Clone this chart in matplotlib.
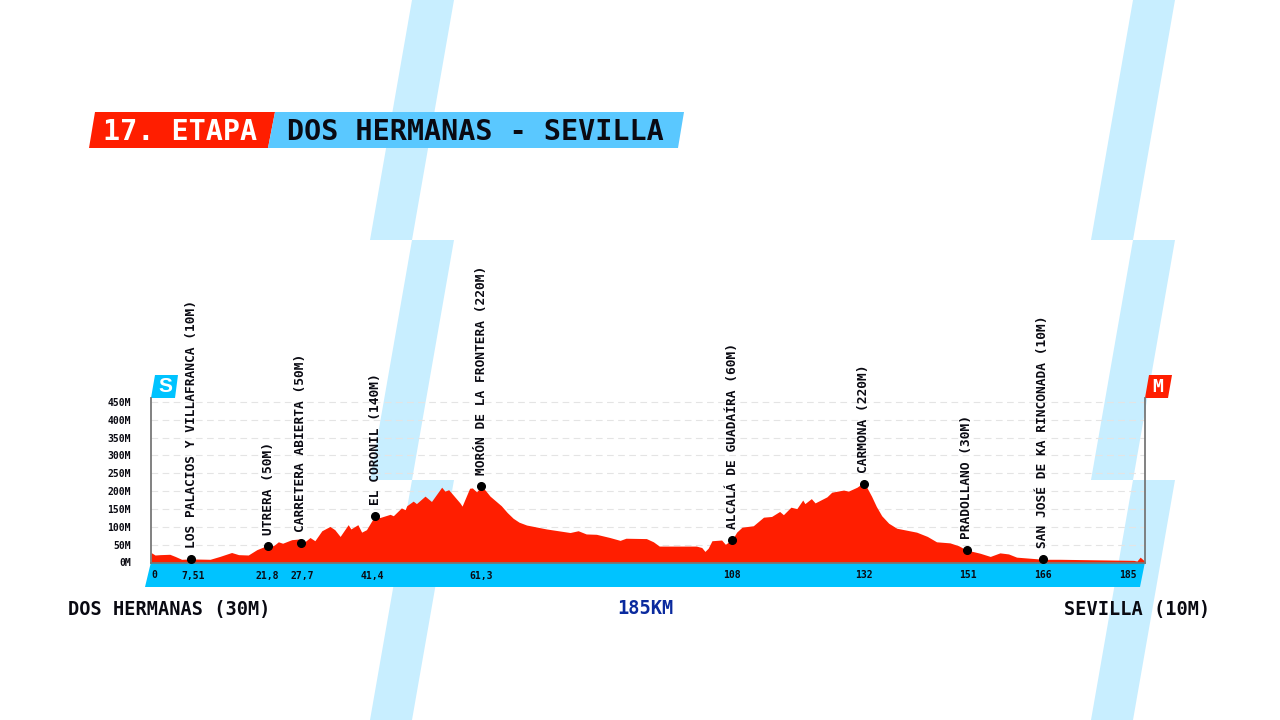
import matplotlib
matplotlib.use('Agg')
import matplotlib.pyplot as plt
from matplotlib.patches import Polygon

plt.rcParams['font.family'] = ['DejaVu Sans Mono']

# elevation profile
km = [0, 0.75, 1.7, 3.5, 4.5, 5.7, 7.5, 11, 12.8, 15, 16.3, 18.1, 19.7, 22, 22.8, 23.7, 24.5, 26.2, 27.7,
      28.7, 29.6, 30.5, 31.8, 33.3, 34.2, 35.2, 36.7, 37.2, 38.5, 39.2, 40.1, 41.7, 42.6, 44.5, 45.1,
      46.6, 47.3, 47.6, 48.8, 49.4, 51, 52.2, 54.1, 54.7, 55.4, 57.5, 57.9, 59.3, 59.8, 60.6, 61.5,
      62.3, 63.1, 65.2, 66.3, 67.4, 68.5, 69.9, 73.6, 78, 79.5, 81, 82.9, 85.4, 87.3, 88.4, 92.2, 93.5, 94.6, 101.5,
      102.5, 103.1, 103.7, 104.4, 106.2, 106.9, 108.2, 109, 110, 112.1, 114, 115.5, 117, 117.7, 119.1,
      120.2, 121.3, 121.7, 122.9, 123.6, 125.8, 126.7, 128.9, 129.8, 131.4, 132.7, 134.1, 135, 136, 137.3, 138.8,
      142.5, 144.5, 146.2, 148.7, 150.3, 151.8, 154.3, 156.2, 158, 159.6, 161.1, 166.1, 169.2, 182.9, 183.5, 184.1, 185]
alt = [28, 21, 22, 23, 17, 9, 10, 9, 17, 28, 22, 21, 36, 50, 47, 58, 54, 64, 66,
       59, 70, 61, 89, 101, 92, 73, 106, 94, 106, 85, 92, 132, 126, 135, 131,
       153, 148, 159, 172, 165, 186, 171, 211, 200, 204, 167, 158, 208, 209, 198, 214,
       201, 186, 159, 140, 124, 113, 105, 94, 84, 89, 80, 79, 70, 62, 68, 67, 58, 46, 46,
       42, 31, 40, 61, 63, 51, 65, 85, 99, 103, 127, 129, 143, 134, 155,
       151, 175, 165, 179, 167, 184, 197, 203, 200, 211, 225, 186, 157, 131, 110, 96,
       85, 73, 58, 55, 47, 35, 26, 17, 27, 24, 15, 9, 9, 6, 4, 15, 3]

stop_km = [7.51, 21.8, 27.9, 41.7, 61.5, 108.2, 132.7, 151.8, 166]
stop_alt = [10, 46, 56, 130, 215, 62, 220, 34, 11]
stop_names = ['LOS PALACIOS Y VILLAFRANCA (10M)', 'UTRERA (50M)', 'CARRETERA ABIERTA (50M)',
              'EL CORONIL (140M)', 'MORÓN DE LA FRONTERA (220M)', 'ALCALÁ DE GUADAÍRA (60M)',
              'CARMONA (220M)', 'PRADOLLANO (30M)', 'SAN JOSÉ DE KA RINCONADA (10M)']

km_ticks = [0, 7.51, 21.8, 27.9, 41.7, 61.5, 108.2, 132.7, 151.8, 166, 185]
km_labels = ['0', '7,51', '21,8', '27,7', '41,4', '61,3', '108', '132', '151', '166', '185']
km_nudge = [3, 2, -1, 1, -3, 0, 0, 0, 1, 0, -17]

alt_ticks = [0, 50, 100, 150, 200, 250, 300, 350, 400, 450]
alt_labels = ['0M', '50M', '100M', '150M', '200M', '250M', '300M', '350M', '400M', '450M']

RED = '#ff1e00'
CYAN = '#00c3ff'
BLUE = '#5ac8ff'
PALE = '#c8eeff'
INK = '#0a0a12'

fig = plt.figure(figsize=(12.8, 7.2), dpi=100, facecolor='white')

# background layer in pixel coordinates
bg = fig.add_axes([0, 0, 1, 1])
bg.set_xlim(0, 1280)
bg.set_ylim(720, 0)
bg.axis('off')

for x0 in [412, 1133]:
    for y0 in [0, 240, 480]:
        bg.add_patch(Polygon([(x0, y0), (x0 + 42, y0), (x0, y0 + 240), (x0 - 42, y0 + 240)],
                             fc=PALE, ec='none'))

# title bar
bg.add_patch(Polygon([(95, 112), (275, 112), (268, 148), (89, 148)], fc=RED, ec='none'))
bg.add_patch(Polygon([(275, 112), (684, 112), (678, 148), (268, 148)], fc=BLUE, ec='none'))
bg.text(103, 131.5, '17. ETAPA', color='white', fontsize=20.4, fontweight='bold', va='center')
bg.text(287, 131.5, 'DOS HERMANAS - SEVILLA', color=INK, fontsize=20.4, fontweight='bold', va='center')

# distance band and flags
bg.add_patch(Polygon([(151, 562), (1145, 562), (1140, 587), (145, 587)], fc=CYAN, ec='none'))
bg.add_patch(Polygon([(155, 375), (178, 375), (175, 398), (151, 398)], fc=CYAN, ec='none'))
bg.add_patch(Polygon([(1149, 375), (1172, 375), (1168, 398), (1145, 398)], fc=RED, ec='none'))
bg.text(165, 387, 'S', color='white', fontsize=15, fontweight='bold', ha='center', va='center',
        family='Liberation Sans')
bg.text(1158, 387, 'M', color='white', fontsize=13, fontweight='bold', ha='center', va='center')

# start, distance, finish
bg.text(68, 609, 'DOS HERMANAS (30M)', color=INK, fontsize=13.4, fontweight='bold', va='center')
bg.text(645, 609, '185KM', color='#0a2a9e', fontsize=13.4, fontweight='bold', ha='center', va='center')
bg.text(1210, 609, 'SEVILLA (10M)', color=INK, fontsize=13.4, fontweight='bold', ha='right', va='center')

# profile axes: 0 km at x=151, 185 km at x=1145, 0 m at y=562.5, 450 m at y=402
ax = fig.add_axes([151 / 1280, (720 - 562.5) / 720, 994 / 1280, 164.5 / 720])
ax.patch.set_alpha(0)
ax.set_xlim(0, 185)
ax.set_ylim(0, 461)

ax.fill_between(km, alt, 0, color=RED, lw=0, zorder=2)

ax.set_yticks(alt_ticks)
ax.set_yticklabels(alt_labels, fontsize=7, fontweight='bold', color=INK)
ax.tick_params(axis='y', length=0, pad=14.5)
ax.set_xticks([])
ax.yaxis.grid(True, color='#e4e4e4', lw=0.8, ls=(0, (6, 4)))
ax.set_axisbelow(True)

ax.spines['top'].set_visible(False)
for side in ['left', 'right', 'bottom']:
    ax.spines[side].set_color('#777777')
    ax.spines[side].set_linewidth(1.3)
    ax.spines[side].set_zorder(3)

for k, a, name in zip(stop_km, stop_alt, stop_names):
    ax.plot([k], [a], 'o', color='black', ms=5.5, zorder=4, clip_on=False)
    ax.annotate(name, (k, a), xytext=(0, 11), textcoords='offset pixels', rotation=90,
                ha='center', va='bottom', fontsize=9.3, fontweight='bold', color=INK,
                annotation_clip=False)

for k, lab, dx in zip(km_ticks, km_labels, km_nudge):
    ax.annotate(lab, (k, 0), xytext=(dx, -13), textcoords='offset pixels', ha='center', va='center',
                fontsize=7, fontweight='bold', color=INK, annotation_clip=False)

fig.savefig('out.png', dpi=100)
